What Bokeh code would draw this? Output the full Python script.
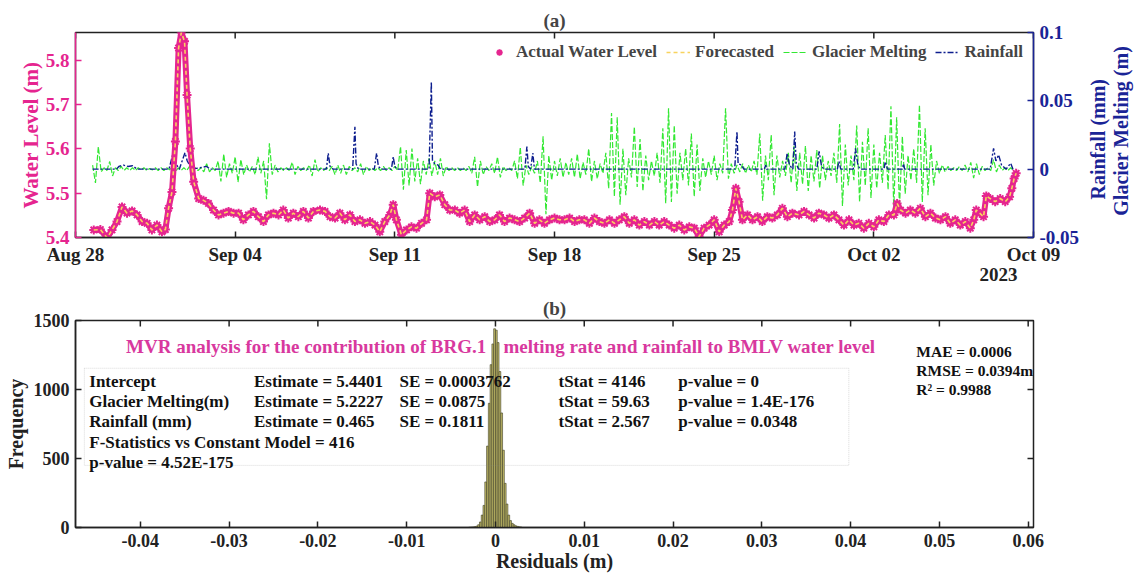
import math
import pandas as pd
from bokeh.plotting import figure
from bokeh.models import (Range1d, LinearAxis, FixedTicker, DatetimeTickFormatter,
                          Legend, LegendItem, Label, BoxAnnotation)
from bokeh.layouts import column, row
from bokeh.embed import file_html
from bokeh.resources import INLINE

# ---------------- data ----------------
START = pd.Timestamp("2023-08-28")
END = pd.Timestamp("2023-10-09")
date_ticks = ["2023-08-28", "2023-09-04", "2023-09-11", "2023-09-18",
              "2023-09-25", "2023-10-02", "2023-10-09"]
year_label = "2023"
year_label_day = 40.47

# water level: days after 28 Aug 2023 00:00, level in m
wl_day = [0.80, 1.09, 1.39, 1.60, 1.82, 2.04, 2.26, 2.48, 2.70, 2.92,
          3.14, 3.35, 3.57, 3.79, 3.94, 4.08, 4.23, 4.38, 4.52, 4.64,
          4.78, 4.89, 5.03, 5.18, 5.40, 5.61, 5.83, 6.05, 6.27, 6.49,
          6.71, 6.93, 7.15, 7.36, 7.58, 7.80, 8.02, 8.24, 8.46, 8.68,
          8.90, 9.11, 9.33, 9.55, 9.77, 9.99, 10.21, 10.43, 10.72,
          10.94, 11.16, 11.38, 11.59, 11.81, 12.03, 12.25, 12.47, 12.69, 12.91,
          13.13, 13.34, 13.56, 13.78, 13.93, 14.07, 14.29, 14.51, 14.73, 14.95,
          15.17, 15.39, 15.53, 15.75, 15.97, 16.19, 16.41, 16.63, 16.84, 17.06,
          17.28, 17.50, 17.72, 17.94, 18.16, 18.38, 18.59, 18.81, 19.03, 19.25,
          19.47, 19.69, 19.91, 20.13, 20.34, 20.56, 20.78, 21.00, 21.22,
          21.44, 21.66, 21.88, 22.09, 22.31, 22.53, 22.75, 22.97, 23.19, 23.41,
          23.63, 23.84, 24.06, 24.28, 24.50, 24.72, 24.94, 25.16, 25.38, 25.59,
          25.81, 26.03, 26.25, 26.47, 26.69, 26.91, 27.13, 27.34, 27.56, 27.78,
          28.00, 28.22, 28.44, 28.66, 28.80, 28.95, 29.09, 29.24, 29.46, 29.68,
          29.90, 30.11, 30.33, 30.55, 30.77, 30.99, 31.21, 31.43, 31.72,
          31.94, 32.16, 32.38, 32.59, 32.81, 33.03, 33.25, 33.47, 33.69, 33.91,
          34.13, 34.34, 34.56, 34.78, 35.00, 35.22, 35.44, 35.66, 35.88, 36.02,
          36.17, 36.39, 36.60, 36.82, 37.04, 37.26, 37.48, 37.70, 37.92, 38.14,
          38.35, 38.57, 38.79, 39.01, 39.23, 39.38, 39.49, 39.64, 39.81, 39.93,
          40.10, 40.32, 40.54, 40.76, 40.95, 41.05, 41.15, 41.24]
wl_level = [5.417, 5.418, 5.399, 5.417, 5.436, 5.469, 5.455, 5.460, 5.451, 5.436,
            5.432, 5.417, 5.428, 5.413, 5.418, 5.466, 5.503, 5.617, 5.828, 5.863,
            5.843, 5.722, 5.601, 5.526, 5.488, 5.484, 5.477, 5.462, 5.451, 5.455,
            5.459, 5.455, 5.455, 5.440, 5.451, 5.459, 5.447, 5.436, 5.451, 5.455,
            5.451, 5.462, 5.444, 5.455, 5.447, 5.459, 5.444, 5.459, 5.462,
            5.459, 5.447, 5.444, 5.455, 5.440, 5.451, 5.436, 5.440, 5.432, 5.436,
            5.428, 5.413, 5.436, 5.451, 5.474, 5.440, 5.406, 5.417, 5.424, 5.421,
            5.432, 5.440, 5.500, 5.492, 5.496, 5.474, 5.462, 5.462, 5.455, 5.462,
            5.436, 5.451, 5.440, 5.447, 5.436, 5.440, 5.451, 5.436, 5.444, 5.440,
            5.436, 5.444, 5.455, 5.432, 5.440, 5.432, 5.440, 5.444, 5.440,
            5.440, 5.444, 5.436, 5.440, 5.440, 5.432, 5.444, 5.436, 5.432, 5.440,
            5.432, 5.440, 5.447, 5.432, 5.440, 5.428, 5.436, 5.428, 5.436, 5.428,
            5.436, 5.428, 5.421, 5.428, 5.417, 5.424, 5.421, 5.402, 5.421, 5.428,
            5.440, 5.413, 5.428, 5.436, 5.462, 5.511, 5.481, 5.440, 5.451, 5.440,
            5.447, 5.436, 5.447, 5.444, 5.451, 5.466, 5.447, 5.455, 5.451,
            5.459, 5.451, 5.444, 5.455, 5.451, 5.444, 5.451, 5.440, 5.428, 5.440,
            5.428, 5.432, 5.421, 5.432, 5.424, 5.440, 5.436, 5.451, 5.451, 5.477,
            5.462, 5.455, 5.462, 5.455, 5.466, 5.447, 5.455, 5.444, 5.440, 5.447,
            5.432, 5.440, 5.428, 5.436, 5.421, 5.440, 5.462, 5.455, 5.447, 5.494,
            5.488, 5.481, 5.488, 5.481, 5.492, 5.511, 5.533, 5.545]
forecast_level = list(wl_level)   # the forecast lies on the observed series

# glacier melting (m), one value every 3 h from 28 Aug 18:00
glacier_start_day = 0.75
glacier_step_hours = 3
glacier_melt = [
    0.003, -0.010, 0.0165, -0.002, 0.001, -0.001, 0.0056, -0.005,
    0.001, -0.001, 0.002, -0.001, 0.001, -0.001, 0.001, -0.001,
    0.001, -0.0005, 0.001, -0.001, 0.0005, -0.0005, 0.001, -0.001,
    0.001, -0.001, 0.001, -0.0005, 0.002, -0.002, 0.001, -0.001,
    0.001, -0.001, 0.002, -0.001, 0.001, -0.001, 0.001, -0.002,
    0.004, -0.002, 0.001, -0.001, 0.006, -0.009, 0.011, -0.006,
    0.004, -0.003, 0.009, -0.0095, 0.007, -0.004, 0.003, -0.002,
    0.002, -0.004, 0.009, -0.003, 0.006, -0.022, 0.019, -0.004,
    0.003, -0.002, 0.001, -0.001, 0.001, -0.001, 0.005, -0.004,
    0.002, -0.001, 0.001, -0.001, 0.003, -0.005, 0.007, -0.002,
    0.001, -0.001, 0.001, -0.001, 0.002, -0.004, 0.003, -0.003,
    0.003, -0.004, 0.002, -0.001, 0.001, -0.002, 0.004, -0.004,
    0.002, -0.001, 0.001, -0.001, 0.001, -0.001, 0.002, -0.001,
    0.001, -0.001, 0.002, -0.001, 0.0165, -0.015, 0.014, -0.012,
    0.015, -0.009, 0.008, -0.011, 0.006, -0.004, 0.008, -0.005,
    0.006, -0.004, 0.008, -0.005, 0.002, -0.001, 0.001, -0.001,
    0.001, -0.001, 0.001, -0.001, 0.002, -0.003, 0.009, -0.013,
    0.006, -0.004, 0.002, -0.001, 0.004, -0.003, 0.009, -0.006,
    0.002, -0.001, 0.001, -0.001, 0.006, -0.007, 0.016, -0.012,
    0.003, -0.004, 0.002, -0.003, 0.006, -0.010, 0.024, -0.033,
    0.010, -0.008, 0.006, -0.005, 0.008, -0.006, 0.005, -0.004,
    0.008, -0.006, 0.011, -0.007, 0.005, -0.004, 0.015, -0.009,
    0.006, -0.007, 0.004, -0.003, 0.012, -0.014, 0.041, -0.020,
    0.038, -0.026, 0.015, -0.019, 0.008, -0.006, 0.031, -0.013,
    0.022, -0.016, 0.010, -0.008, 0.006, -0.005, 0.012, -0.010,
    0.030, -0.025, 0.0445, -0.024, 0.032, -0.018, 0.012, -0.008,
    0.015, -0.012, 0.026, -0.020, 0.018, -0.016, 0.008, -0.006,
    0.006, -0.004, 0.010, -0.008, 0.004, -0.003, 0.0445, -0.007,
    0.004, -0.003, 0.003, -0.002, 0.004, -0.003, 0.003, -0.002,
    0.006, -0.004, 0.026, -0.023, 0.010, -0.008, 0.025, -0.019,
    0.010, -0.006, 0.006, -0.005, 0.012, -0.010, 0.017, -0.016,
    0.012, -0.011, 0.017, -0.016, 0.010, -0.009, 0.014, -0.014,
    0.010, -0.008, 0.006, -0.005, 0.012, -0.010, 0.033, -0.027,
    0.018, -0.012, 0.010, -0.008, 0.032, -0.024, 0.020, -0.012,
    0.030, -0.021, 0.018, -0.014, 0.012, -0.010, 0.025, -0.015,
    0.046, -0.029, 0.038, -0.028, 0.024, -0.018, 0.010, -0.008,
    0.015, -0.010, 0.047, -0.024, 0.030, -0.019, 0.018, -0.012,
    0.006, -0.003, 0.003, -0.002, 0.002, -0.001, 0.001, -0.001,
    0.002, -0.001, 0.003, -0.002, 0.005, -0.0065, 0.004, -0.004,
    0.002, -0.001, 0.001, -0.001, 0.007, -0.002, 0.003, -0.001,
    0.001, -0.001, 0.001, -0.001]

# rainfall: days after 28 Aug 00:00, value on the right axis
rain_day = [0.75, 1.80, 1.90, 2.10, 2.30, 2.50, 2.70, 4.10, 4.25, 4.40, 4.55, 4.80, 4.90, 5.10,
            5.75, 5.90, 11.00, 11.08, 11.16, 11.30, 12.15, 12.25, 12.30, 12.40, 13.10, 13.20,
            13.28, 13.40, 13.85, 13.93, 14.00, 14.10, 15.50, 15.60, 15.65, 15.75, 15.90, 16.00,
            19.70, 19.79, 19.85, 19.95, 20.05, 20.12, 28.90, 29.00, 29.05, 29.20, 29.30, 30.20,
            30.26, 30.30, 31.10, 31.20, 31.30, 31.45, 31.53, 31.60, 31.70, 32.50, 32.60, 32.70,
            32.80, 33.40, 33.47, 33.55, 34.10, 34.20, 34.30, 34.40, 35.45, 35.50, 35.60, 36.25,
            36.30, 36.35, 40.10, 40.25, 40.35, 40.47, 40.60, 40.80, 41.00, 41.10, 41.20]
rain_val = [0.0, 0.0, 0.002, 0.003, 0.002, 0.0025, 0.0, 0.0, 0.010, 0.004, 0.0, 0.012, 0.006, 0.0,
            0.002, 0.0, 0.0, 0.0117, 0.002, 0.0, 0.0, 0.031, 0.004, 0.0, 0.0, 0.0117,
            0.002, 0.0, 0.0, 0.009, 0.002, 0.0, 0.0, 0.064, 0.006, 0.004, 0.003, 0.0,
            0.0, 0.0165, 0.002, 0.0, 0.0117, 0.0, 0.0, 0.0275, 0.004, 0.003, 0.0, 0.0,
            0.003, 0.0, 0.0, 0.0117, 0.003, 0.0, 0.0275, 0.004, 0.0, 0.0, 0.013, 0.003,
            0.0, 0.0, 0.0056, 0.0, 0.0, 0.0153, 0.003, 0.0, 0.0, 0.0056, 0.0, 0.0,
            0.004, 0.0, 0.0, 0.0153, 0.006, 0.0105, 0.003, 0.0, 0.0044, 0.0, 0.0]

# residual histogram
resid_bin_width = 0.0002
resid_centers = [-0.0029, -0.0027, -0.0025, -0.0023, -0.0021, -0.0019, -0.0017, -0.0015,
                 -0.0013, -0.0011, -0.0009, -0.0007, -0.0005, -0.0003, -0.0001,
                 0.0001, 0.0003, 0.0005, 0.0007, 0.0009, 0.0011, 0.0013, 0.0015,
                 0.0017, 0.0019, 0.0021, 0.0023, 0.0025, 0.0027, 0.0029]
resid_counts = [2, 3, 4, 6, 10, 20, 40, 90, 160, 330, 590, 900, 1180, 1330, 1440,
                1430, 1340, 1130, 830, 560, 320, 170, 90, 50, 30, 20, 12, 8, 5, 3]

resid_ticks = [-0.04, -0.03, -0.02, -0.01, 0.0, 0.01, 0.02, 0.03, 0.04, 0.05, 0.06]
freq_ticks = [0, 500, 1000, 1500]
level_ticks = [5.4, 5.5, 5.6, 5.7, 5.8]
right_ticks = [-0.05, 0.0, 0.05, 0.1]

stats_rows = [
    ["Intercept", "Estimate = 5.4401", "SE = 0.0003762", "tStat = 4146", "p-value = 0"],
    ["Glacier Melting(m)", "Estimate = 5.2227", "SE = 0.0875", "tStat = 59.63", "p-value = 1.4E-176"],
    ["Rainfall (mm)", "Estimate = 0.465", "SE = 0.1811", "tStat  = 2.567", "p-value = 0.0348"],
]
stats_extra = ["F-Statistics vs Constant Model = 416", "p-value = 4.52E-175"]
metrics = ["MAE = 0.0006", "RMSE = 0.0394m", "R\u00b2 = 0.9988"]
mvr_title_left = "MVR analysis for the contribution of BRG.1"
mvr_title_right = "melting rate and rainfall to BMLV water level"
right_labels = ["Rainfall (mm)", "Glacier Melting (m)"]

# ---------------- styling ----------------
FONT = "Liberation Serif"
MAGENTA = "#E5258F"
YELLOW = "#F8D35E"
GREEN = "#33E833"
BLUE = "#0D1E8E"
AXBLUE = "#1A2496"
TITLE_PINK = "#D8389E"
DARK = "#222222"


def ms(ts):
    return ts.value // 10**6


def to_time(days):
    return [START + pd.Timedelta(days=d) for d in days]


wl_time = to_time(wl_day)
glacier_time = [START + pd.Timedelta(days=glacier_start_day) + pd.Timedelta(hours=glacier_step_hours * i)
                for i in range(len(glacier_melt))]
rain_time = to_time(rain_day)
date_ms = [ms(pd.Timestamp(d)) for d in date_ticks]


def style_axis(ax, color, size="19px"):
    ax.major_label_text_font = FONT
    ax.major_label_text_font_style = "bold"
    ax.major_label_text_font_size = size
    ax.major_label_text_color = color
    ax.axis_label_text_font = FONT
    ax.axis_label_text_font_style = "bold"
    ax.axis_label_text_font_size = "21px"
    ax.axis_label_text_color = color
    ax.axis_line_color = color
    ax.major_tick_line_color = color
    ax.major_tick_in = 6
    ax.major_tick_out = 0
    ax.minor_tick_line_color = None
    ax.axis_line_width = 1.5
    ax.major_tick_line_width = 1.5


def inner_ticks(p, xs, ys, angle, **kw):
    # short inward tick marks on the opposite frame edges (half of each dash is clipped)
    p.scatter(xs, ys, marker="dash", size=12, angle=angle, line_color=DARK, line_width=1.5, **kw)


# ---------------- panel (a) ----------------
p1 = figure(width=1085, height=290, x_axis_type="datetime",
            x_range=Range1d(ms(START), ms(END)), y_range=Range1d(5.4, 5.863),
            output_backend="svg", toolbar_location=None,
            min_border_left=75, min_border_right=52, min_border_top=32, min_border_bottom=53,
            title="(a)")
p1.title.align = "center"
p1.title.text_font = FONT
p1.title.text_font_size = "19px"
p1.title.text_font_style = "bold"
p1.title.standoff = 4
p1.outline_line_color = DARK
p1.outline_line_width = 1.5
p1.xgrid.visible = False
p1.ygrid.visible = False
p1.extra_y_ranges = {"right": Range1d(-0.05, 0.1)}

xt = FixedTicker(ticks=date_ms)
fmt = DatetimeTickFormatter(days="%b %d", months="%b %d", hours="%b %d", years="%b %d")
xax = p1.xaxis[0]
xax.ticker = xt
xax.formatter = fmt
style_axis(xax, DARK, "19px")
xax.major_label_standoff = 6

year_ms = ms(START + pd.Timedelta(days=year_label_day))
year_ax = LinearAxis(ticker=FixedTicker(ticks=[year_ms]),
                     major_label_overrides={year_ms: year_label})
style_axis(year_ax, DARK, "19px")
year_ax.axis_line_color = None
year_ax.major_tick_line_color = None
year_ax.major_label_standoff = 0
p1.add_layout(year_ax, "below")

yax = p1.yaxis[0]
yax.ticker = FixedTicker(ticks=level_ticks)
style_axis(yax, MAGENTA)
yax.axis_label = "Water Level (m)"
yax.major_label_standoff = 6
yax.axis_label_standoff = 0

rax = LinearAxis(y_range_name="right", ticker=FixedTicker(ticks=right_ticks),
                 major_label_overrides={t: f"{t:g}" for t in right_ticks})
style_axis(rax, AXBLUE)
rax.major_label_standoff = 6
p1.add_layout(rax, "right")

g_glac = p1.line(glacier_time, glacier_melt, y_range_name="right", line_color=GREEN,
                 line_width=1.2, line_dash="6 2")
g_rain = p1.line(rain_time, rain_val, y_range_name="right", line_color=BLUE,
                 line_width=1.4, line_dash="6 2 2 2")
p1.line(wl_time, wl_level, line_color=MAGENTA, line_width=6)
g_act = p1.scatter(wl_time, wl_level, marker="asterisk", size=9, line_color=MAGENTA, line_width=2)
g_fc = p1.line(wl_time, forecast_level, line_color=YELLOW, line_width=1.6, line_dash="4 3")
inner_ticks(p1, date_ms, [p1.y_range.end] * len(date_ms), math.pi / 2)

legend = Legend(items=[LegendItem(label="Actual Water Level", renderers=[g_act]),
                       LegendItem(label="Forecasted", renderers=[g_fc]),
                       LegendItem(label="Glacier Melting", renderers=[g_glac]),
                       LegendItem(label="Rainfall", renderers=[g_rain])],
                orientation="horizontal", location="top_right",
                border_line_color=None, background_fill_alpha=0,
                label_text_font=FONT, label_text_font_style="bold", label_text_font_size="17px",
                glyph_width=24, glyph_height=16, label_standoff=5, spacing=9,
                padding=5, margin=10)
p1.add_layout(legend)

# right-hand axis titles (read bottom-to-top), drawn in a narrow companion panel
pr = figure(width=60, height=290, x_range=Range1d(0, 60), y_range=Range1d(0, 290),
            output_backend="svg", toolbar_location=None, x_axis_location=None, y_axis_location=None,
            min_border_left=0, min_border_right=0, min_border_top=0, min_border_bottom=0)
pr.outline_line_color = None
pr.xgrid.visible = False
pr.ygrid.visible = False
for s, xx, yy in zip(right_labels, [12, 35], [139, 151]):
    pr.add_layout(Label(x=xx, y=yy, text=s, angle=math.pi / 2, text_font=FONT,
                        text_font_style="bold", text_font_size="20px", text_color=AXBLUE,
                        text_align="center", text_baseline="middle"))

# ---------------- panel (b) ----------------
p2 = figure(width=1145, height=290, x_range=Range1d(-0.0473, 0.0606), y_range=Range1d(0, 1500),
            output_backend="svg", toolbar_location=None,
            min_border_left=75, min_border_right=112, min_border_top=30, min_border_bottom=53,
            title="(b)")
p2.title.align = "center"
p2.title.text_font = FONT
p2.title.text_font_size = "19px"
p2.title.text_font_style = "bold"
p2.title.standoff = 4
p2.outline_line_color = DARK
p2.outline_line_width = 1.5
p2.xgrid.visible = False
p2.ygrid.visible = False

bx = p2.xaxis[0]
bx.ticker = FixedTicker(ticks=resid_ticks)
bx.major_label_overrides = {t: f"{t:g}" for t in resid_ticks}
style_axis(bx, DARK, "18px")
bx.axis_label = "Residuals (m)"
bx.axis_label_text_font_size = "20px"
bx.major_label_standoff = 6
bx.axis_label_standoff = 0

by = p2.yaxis[0]
by.ticker = FixedTicker(ticks=freq_ticks)
style_axis(by, DARK, "18px")
by.axis_label = "Frequency"
by.axis_label_text_font_size = "20px"
by.major_label_standoff = 6
by.axis_label_standoff = 4

lefts = [c - resid_bin_width / 2 for c in resid_centers]
rights = [c + resid_bin_width / 2 for c in resid_centers]
p2.quad(left=lefts, right=rights, bottom=0, top=resid_counts,
        fill_color="#C4BD6A", line_color="#3B3B22", line_width=0.6)
inner_ticks(p2, resid_ticks, [p2.y_range.end] * len(resid_ticks), math.pi / 2)
inner_ticks(p2, [p2.x_range.end] * len(freq_ticks), freq_ticks, 0)

p2.add_layout(BoxAnnotation(left=-0.0463, right=0.0398, bottom=450, top=1154,
                            fill_alpha=0, line_color="#888888", line_dash="1 1", line_width=1))


def txt(x, y, s, size="17px", color="#111111"):
    p2.add_layout(Label(x=x, y=y, text=s, text_font=FONT, text_font_style="bold",
                        text_font_size=size, text_color=color, text_baseline="middle"))


txt(-0.0416, 1308, mvr_title_left, "19px", TITLE_PINK)
txt(0.0009, 1308, mvr_title_right, "19px", TITLE_PINK)
col_x = [-0.04575, -0.0272, -0.0108, 0.0071, 0.0206]
row_y = [1060, 914, 769]
for r, row_texts in enumerate(stats_rows):
    for c, s in enumerate(row_texts):
        txt(col_x[c], row_y[r], s)
txt(col_x[0], 617, stats_extra[0])
txt(col_x[0], 472, stats_extra[1])
for i, s in enumerate(metrics):
    txt(0.0474, [1277, 1139, 1000][i], s, "15.5px")

layout = column(row(p1, pr), p2)
open("out.html", "w").write(file_html(layout, INLINE))
